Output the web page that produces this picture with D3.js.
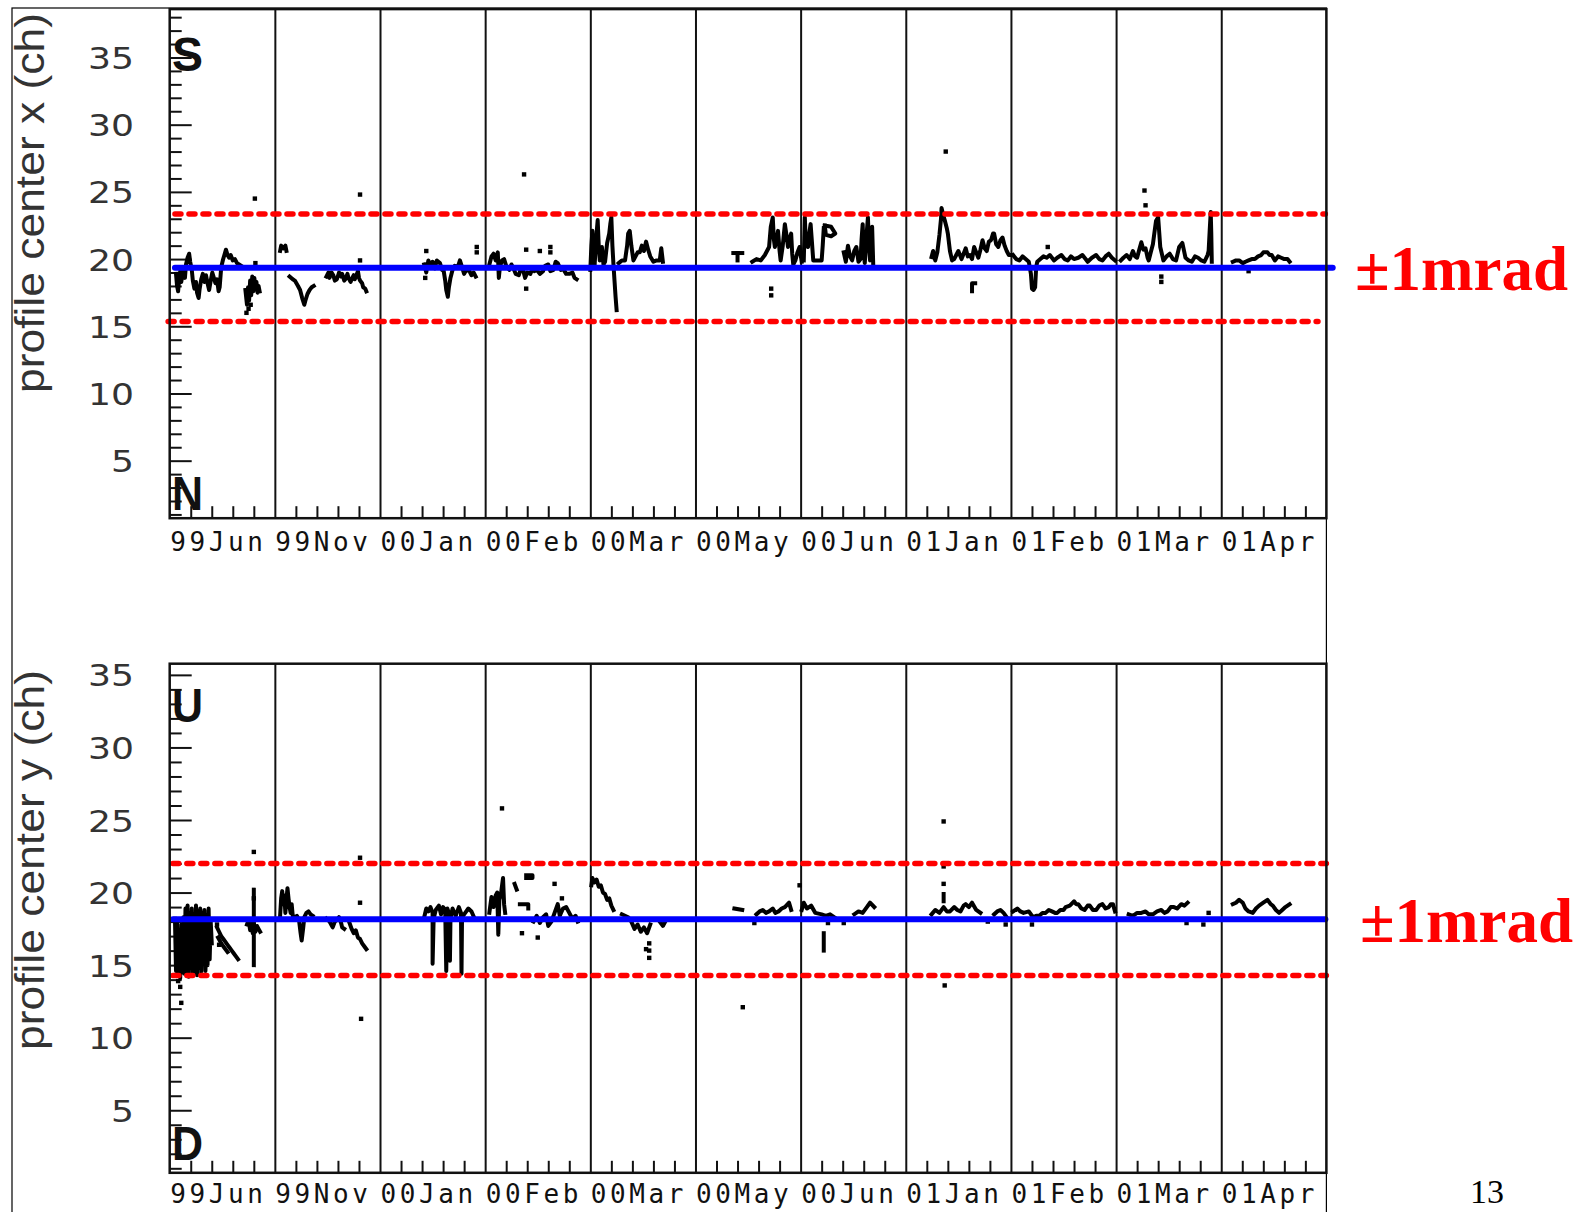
<!DOCTYPE html>
<html><head><meta charset="utf-8">
<script src="https://cdn.jsdelivr.net/npm/d3@7"></script>
<style>html,body{margin:0;padding:0;background:#fff;} svg{display:block;}</style>
</head><body>
<svg id="chart" width="1584" height="1212"></svg>
<script>
// ---------------- DATA ----------------
const periods = ["99Jun","99Nov","00Jan","00Feb","00Mar","00May","00Jun","01Jan","01Feb","01Mar","01Apr"];
const yTickValues = [5,10,15,20,25,30,35];
const xDomain = [0, 11];
const topDomain = [0.72, 38.6];
const bottomDomain = [0.69, 35.77];
const topTitle = "profile center x (ch)";
const bottomTitle = "profile center y (ch)";
const topCornerLabels = ["S","N"];
const bottomCornerLabels = ["U","D"];
const bandLabel = "\u00B11mrad";
const pageNumber = "13";
// reference lines (value, [from, to] in period units)
const topCenter = [19.36, [0.05, 11.06]];
const topBand = [[23.36, [0.05, 10.99]], [15.36, [-0.015, 10.92]]];
const bottomCenter = [18.16, [0.03, 10.99]];
const bottomBand = [[22.0, [0.03, 11.0]], [14.28, [0.03, 11.0]]];

// top panel: profile center x — traces as [period position, value]
const topTraces = [
 [[0.06,18.9],[0.07,18.0],[0.08,17.6],[0.09,18.5],[0.10,19.1],[0.11,18.3],[0.12,18.8],[0.13,19.3],[0.145,18.6],[0.155,19.6],[0.17,20.1],[0.185,20.4],[0.195,19.8],[0.21,19.2],[0.22,18.4],[0.235,17.8],[0.25,18.3],[0.26,17.5],[0.275,17.1],[0.285,17.8],[0.30,18.5],[0.315,18.9],[0.33,18.3],[0.345,18.8],[0.36,18.2],[0.375,17.7],[0.39,18.4],[0.405,19.0],[0.42,18.6],[0.435,18.2],[0.45,18.5],[0.465,17.6],[0.475,17.9],[0.49,19.4],[0.505,19.9],[0.52,20.3],[0.535,20.7],[0.55,20.3],[0.565,20.1],[0.58,20.3],[0.60,19.9],[0.62,20.0],[0.64,19.7],[0.66,19.6],[0.68,19.5]],
 [[0.72,17.7],[0.735,16.6],[0.745,17.9],[0.755,16.9],[0.765,18.4],[0.775,17.3],[0.785,18.7],[0.795,17.6],[0.805,18.6],[0.815,17.9],[0.825,18.3],[0.835,17.5],[0.845,18.0],[0.855,17.6]],
 [[1.05,20.6],[1.06,21.0],[1.08,20.8],[1.10,21.0],[1.11,20.6]],
 [[1.14,18.7],[1.17,18.5],[1.19,18.4],[1.22,18.0],[1.24,17.7],[1.26,17.1],[1.28,16.6],[1.29,16.9],[1.31,17.4],[1.33,17.7],[1.35,17.9],[1.37,18.0]],
 [[1.49,18.7],[1.51,19.0],[1.52,18.6],[1.54,19.0],[1.556,18.8],[1.57,18.4],[1.59,18.5],[1.61,19.0],[1.63,18.7],[1.64,18.9],[1.66,18.4],[1.67,18.5],[1.69,18.9],[1.70,18.6],[1.72,18.3],[1.73,18.5],[1.75,18.8],[1.76,18.5],[1.78,18.9],[1.79,19.1],[1.80,18.6],[1.81,18.4],[1.83,18.2],[1.84,17.9],[1.86,17.8],[1.87,17.6]],
 [[2.42,19.6],[2.44,19.0],[2.46,19.9],[2.48,19.5],[2.50,19.8],[2.52,19.3],[2.54,19.9],[2.57,19.7],[2.59,19.2],[2.60,19.4],[2.62,18.4],[2.63,17.7],[2.645,17.2],[2.655,17.9],[2.67,18.6],[2.69,19.2],[2.71,19.5],[2.74,19.4],[2.76,19.9],[2.78,19.4],[2.80,18.9],[2.82,19.2],[2.85,19.1],[2.87,18.8],[2.89,19.0],[2.91,18.7]],
 [[3.04,19.6],[3.06,20.2],[3.08,20.4],[3.10,19.9],[3.12,20.5],[3.13,18.6],[3.14,19.4],[3.16,19.9],[3.18,20.0],[3.20,19.5],[3.23,19.2],[3.25,19.6],[3.27,19.3],[3.29,18.9],[3.32,18.8],[3.34,19.3],[3.36,19.2],[3.38,18.6],[3.40,19.0],[3.43,18.9],[3.45,19.3],[3.47,19.1],[3.49,19.2],[3.52,18.9],[3.55,19.1],[3.57,19.5],[3.60,19.6],[3.62,19.1],[3.65,19.2],[3.67,19.8],[3.69,19.7],[3.72,19.2],[3.74,19.3],[3.77,18.9],[3.80,18.9],[3.83,19.0],[3.85,18.6],[3.87,18.5]],
 [[4.00,19.2],[4.01,21.0],[4.02,22.1],[4.03,20.0],[4.04,19.4],[4.055,21.5],[4.07,22.9],[4.08,21.0],[4.09,19.9],[4.10,20.5],[4.11,20.9],[4.125,19.6],[4.14,19.8],[4.16,21.2],[4.18,21.9],[4.19,22.6],[4.20,23.1],[4.21,21.0],[4.22,19.6],[4.23,18.4],[4.24,17.2],[4.25,16.2]],
 [[4.27,19.7],[4.30,19.9],[4.33,19.9],[4.35,21.0],[4.36,21.9],[4.375,22.1],[4.39,21.0],[4.41,19.9],[4.43,20.2],[4.45,20.5],[4.47,20.5],[4.49,21.0],[4.51,20.6],[4.53,21.3],[4.55,20.7],[4.57,20.2],[4.60,19.8],[4.63,19.9],[4.66,19.9],[4.675,20.8],[4.69,19.8]],
 [[5.36,20.45],[5.445,20.45]],
 [[5.40,20.45],[5.40,19.9]],
 [[5.54,19.8],[5.58,20.0],[5.62,19.9],[5.66,20.3],[5.70,20.9],[5.716,22.4],[5.735,23.1],[5.745,21.5],[5.755,20.9],[5.77,21.4],[5.785,22.1],[5.80,20.6],[5.81,19.9],[5.83,21.0],[5.85,22.6],[5.865,21.8],[5.88,20.9],[5.895,21.5],[5.91,21.9],[5.92,20.4],[5.93,19.6],[5.95,19.9],[5.97,20.5],[5.99,20.9],[6.01,19.8]],
 [[6.03,19.9],[6.035,21.5],[6.04,23.1],[6.05,21.0],[6.07,20.9],[6.08,21.8],[6.095,22.6],[6.11,21.0],[6.12,19.9],[6.16,19.9],[6.20,19.9],[6.21,21.0],[6.22,22.3]],
 [[6.23,22.5],[6.29,22.4],[6.33,21.9],[6.29,21.7],[6.24,21.8],[6.23,22.5]],
 [[6.41,20.5],[6.43,19.8],[6.45,21.0],[6.47,20.2],[6.49,19.9],[6.51,20.6],[6.53,20.9],[6.55,19.8],[6.57,20.0],[6.58,21.5],[6.59,22.6],[6.60,20.5],[6.61,19.7],[6.625,21.6],[6.64,23.1],[6.65,21.0],[6.66,19.9],[6.67,21.2],[6.68,22.4],[6.69,19.7]],
 [[7.245,20.15],[7.26,20.6],[7.28,19.9],[7.30,20.5],[7.32,21.8],[7.335,23.0],[7.34,23.8],[7.355,23.3],[7.37,22.9],[7.39,22.3],[7.40,21.9],[7.42,20.6],[7.44,19.9],[7.46,20.0],[7.48,20.3],[7.50,20.6],[7.53,20.0],[7.55,20.4],[7.57,20.8],[7.59,20.2],[7.61,20.3],[7.63,20.0],[7.65,20.9],[7.67,20.5],[7.69,20.1],[7.71,20.7],[7.73,21.4],[7.75,20.8],[7.77,20.6],[7.79,21.3],[7.81,21.4],[7.83,21.9],[7.84,21.9],[7.86,21.1],[7.88,20.9],[7.90,21.4],[7.92,21.6],[7.94,21.0],[7.96,20.6],[7.98,20.3],[8.0,20.3]],
 [[7.63,17.6],[7.63,18.2],[7.66,18.2]],
 [[8.02,20.3],[8.05,20.0],[8.08,19.9],[8.11,20.2],[8.14,20.0],[8.17,19.8],[8.19,18.9],[8.20,17.8],[8.215,17.7],[8.23,17.9],[8.24,19.4],[8.25,19.8],[8.28,20.0],[8.31,20.2],[8.34,20.1],[8.37,20.3],[8.41,19.9],[8.44,20.1],[8.48,20.3],[8.51,20.0],[8.54,19.9],[8.57,20.2],[8.60,20.0],[8.64,20.1],[8.68,20.3],[8.71,20.0],[8.73,19.8],[8.77,20.1],[8.81,20.3],[8.84,20.0],[8.87,19.9],[8.90,20.2],[8.93,20.4],[8.96,20.1],[8.99,19.9]],
 [[9.045,19.9],[9.07,20.1],[9.10,20.3],[9.13,20.0],[9.16,20.6],[9.18,20.2],[9.20,20.1],[9.22,20.7],[9.24,21.25],[9.26,20.7],[9.28,20.8],[9.30,20.1],[9.31,19.9],[9.33,20.5],[9.35,21.1],[9.365,22.0],[9.38,22.85],[9.40,23.1],[9.41,22.0],[9.42,20.9],[9.45,19.9],[9.48,20.2],[9.51,20.4],[9.54,20.0],[9.57,19.9],[9.60,20.9],[9.63,21.2],[9.66,20.1],[9.69,19.9],[9.72,19.8],[9.75,20.2],[9.78,20.1],[9.81,19.9],[9.84,19.8],[9.87,20.3],[9.88,20.6],[9.89,22.1],[9.90,23.5],[9.905,22.0],[9.91,19.8]],
 [[10.11,19.8],[10.14,19.9],[10.17,19.9],[10.205,19.7],[10.23,19.8],[10.26,19.9],[10.29,20.0],[10.32,20.0],[10.35,20.2],[10.38,20.3],[10.40,20.5],[10.44,20.5],[10.46,20.3],[10.48,20.3],[10.51,19.9],[10.54,20.2],[10.57,20.1],[10.60,20.0],[10.63,20.0],[10.65,19.8]]
];
const topDots = [[0.75,16.3],[0.77,16.6],[0.73,16.0],[0.81,24.5],[0.815,19.7],[1.81,24.8],[1.81,19.9],[2.44,20.6],[2.43,18.6],[2.92,20.9],[2.92,20.5],[3.39,20.7],[3.39,17.8],[3.52,20.6],[3.62,20.9],[3.62,20.5],[3.37,26.3],[5.72,17.8],[5.72,17.3],[7.38,28.0],[8.35,20.9],[9.43,18.7],[9.43,18.3],[9.28,24.0],[9.27,25.1],[10.26,19.1]];

// bottom panel: profile center y
const bottomTraces = [
 [[0.05,18.2],[0.06,14.6],[0.07,17.9],[0.08,14.3],[0.09,17.3],[0.10,14.1],[0.11,17.8],[0.12,14.5],[0.13,18.3],[0.14,14.4],[0.15,18.9],[0.16,14.6],[0.17,19.1],[0.18,14.2],[0.19,18.6],[0.20,15.0],[0.21,18.9],[0.22,14.4],[0.23,18.5],[0.24,14.6],[0.25,19.1],[0.26,14.3],[0.27,18.7],[0.28,14.8],[0.29,18.9],[0.30,14.5],[0.31,18.6],[0.32,15.2],[0.33,18.8],[0.34,14.6],[0.35,18.4],[0.36,15.0],[0.37,18.9],[0.38,15.4],[0.39,18.0],[0.40,16.5]],
 [[0.45,17.6],[0.47,17.3],[0.49,17.0],[0.51,16.8],[0.53,16.6],[0.55,16.4],[0.57,16.2],[0.59,16.0],[0.61,15.8],[0.63,15.6],[0.65,15.4]],
 [[0.46,16.9],[0.49,16.5],[0.52,16.2],[0.55,15.9]],
 [[0.735,17.8],[0.75,18.1],[0.765,17.4],[0.78,18.0],[0.79,17.2],[0.80,17.9],[0.815,17.3],[0.83,17.7],[0.845,17.5],[0.86,17.3]],
 [[0.80,20.2],[0.80,15.0]],
 [[1.05,18.4],[1.06,19.6],[1.07,20.1],[1.08,19.2],[1.09,19.8],[1.10,18.6],[1.11,19.5],[1.12,20.3],[1.13,19.6],[1.14,19.0],[1.15,18.6],[1.16,19.2],[1.17,18.4],[1.19,18.3],[1.21,18.4],[1.23,18.1],[1.245,17.2],[1.255,16.7],[1.27,17.6],[1.28,18.3],[1.30,18.6],[1.32,18.7],[1.34,18.5],[1.36,18.4]],
 [[1.49,18.2],[1.52,18.0],[1.55,17.6],[1.57,18.0],[1.59,18.1],[1.61,18.3],[1.63,17.9],[1.64,17.6],[1.66,17.5]],
 [[1.71,17.9],[1.73,17.5],[1.75,17.2],[1.77,17.4],[1.79,16.9],[1.81,16.8],[1.83,16.5],[1.85,16.3],[1.87,16.1]],
 [[2.42,18.3],[2.44,18.9],[2.46,18.7],[2.48,19.0],[2.50,18.6],[2.50,15.1],[2.51,18.2],[2.53,18.8],[2.56,19.1],[2.58,18.5],[2.60,19.0],[2.62,18.8],[2.63,14.6],[2.64,18.9],[2.66,18.5],[2.665,15.3],[2.67,18.2],[2.69,18.9],[2.72,18.4],[2.75,19.0],[2.77,18.6],[2.775,14.4],[2.78,18.3],[2.81,18.6],[2.84,18.9],[2.87,18.7],[2.90,18.2]],
 [[3.04,18.6],[3.06,19.7],[3.08,19.0],[3.10,19.8],[3.115,20.0],[3.125,17.1],[3.135,19.5],[3.15,19.9],[3.17,21.0],[3.18,19.2],[3.19,18.6]],
 [[3.28,20.6],[3.30,20.2]],
 [[3.39,21.2],[3.45,21.2],[3.45,21.0],[3.39,21.0]],
 [[3.33,19.2],[3.41,19.2],[3.41,18.9]],
 [[3.46,18.0],[3.49,18.4],[3.52,17.9],[3.55,18.3],[3.58,18.5],[3.60,17.7],[3.63,18.0],[3.66,18.6],[3.69,19.2],[3.71,18.4],[3.74,18.9],[3.77,19.0],[3.80,18.6],[3.83,18.2],[3.86,18.4],[3.88,18.0]],
 [[4.01,20.5],[4.02,21.0],[4.04,20.7],[4.06,20.9],[4.08,20.4],[4.10,20.5],[4.12,20.0],[4.14,19.9],[4.16,19.5],[4.18,19.6],[4.20,19.1],[4.22,18.8]],
 [[4.30,18.5],[4.33,18.4],[4.36,18.3],[4.39,18.0],[4.42,17.5],[4.45,17.8],[4.48,17.3],[4.51,17.6],[4.54,17.2],[4.57,17.8]],
 [[4.66,18.0],[4.69,17.7],[4.72,18.1]],
 [[5.37,18.9],[5.445,18.8]],
 [[5.58,18.5],[5.61,18.7],[5.64,18.8],[5.67,18.6],[5.70,18.7],[5.735,18.9],[5.76,18.6],[5.79,18.7],[5.82,18.9],[5.85,19.0],[5.89,19.3],[5.91,18.8]],
 [[6.01,18.8],[6.03,19.3],[6.06,18.9],[6.10,19.1],[6.14,18.6],[6.20,18.5],[6.24,18.4],[6.28,18.5],[6.32,18.3]],
 [[6.22,17.2],[6.22,16.0]],
 [[6.51,18.5],[6.55,18.7],[6.59,18.6],[6.63,19.0],[6.66,19.3],[6.70,19.0]],
 [[7.245,18.5],[7.28,18.8],[7.32,18.6],[7.36,19.0],[7.39,18.7],[7.42,18.7],[7.46,19.0],[7.49,18.8],[7.52,18.7],[7.55,19.1],[7.57,19.2],[7.60,19.0],[7.63,19.3],[7.67,18.8],[7.71,18.6]],
 [[7.36,19.9],[7.36,19.4]],
 [[7.84,18.5],[7.87,18.7],[7.90,18.8],[7.93,18.6],[7.96,18.3]],
 [[8.02,18.7],[8.06,18.9],[8.09,18.7],[8.12,18.6],[8.17,18.7],[8.21,18.3],[8.24,18.4],[8.27,18.4],[8.30,18.6],[8.33,18.6],[8.36,18.8],[8.39,18.7],[8.42,18.6],[8.44,18.6],[8.47,18.8],[8.50,18.8],[8.52,19.0],[8.56,19.1],[8.60,19.4],[8.62,19.2],[8.64,19.2],[8.67,18.9],[8.70,18.8],[8.73,19.1],[8.75,19.1],[8.78,18.8],[8.81,18.8],[8.84,19.1],[8.87,19.2],[8.90,18.9],[8.93,19.0],[8.95,19.2],[8.97,19.2],[8.99,18.7]],
 [[9.12,18.5],[9.16,18.4],[9.20,18.6],[9.24,18.6],[9.28,18.7],[9.31,18.5],[9.35,18.5],[9.39,18.7],[9.43,18.8],[9.46,18.6],[9.49,18.7],[9.52,19.0],[9.55,19.0],[9.58,18.9],[9.62,19.2],[9.65,19.1],[9.68,19.3]],
 [[10.11,19.2],[10.14,19.3],[10.17,19.5],[10.205,19.3],[10.23,18.9],[10.26,18.7],[10.30,18.6],[10.33,18.9],[10.36,19.1],[10.40,19.3],[10.44,19.5],[10.47,19.2],[10.49,19.1],[10.52,18.8],[10.55,18.6],[10.58,18.8],[10.61,19.0],[10.65,19.2]]
];
const bottomDots = [[0.45,17.8],[0.47,16.4],[0.80,22.8],[0.80,19.6],[0.10,13.5],[0.11,12.4],[0.08,13.9],[1.81,19.3],[1.81,22.4],[1.82,11.3],[3.50,16.9],[3.66,20.6],[3.73,19.6],[3.35,17.2],[3.16,25.8],[4.56,16.5],[4.56,16.0],[4.56,15.5],[4.53,16.1],[5.56,17.9],[5.99,20.5],[5.45,12.1],[6.26,17.9],[6.41,17.9],[7.36,24.9],[7.36,21.8],[7.36,20.6],[7.37,13.6],[7.78,18.0],[7.95,17.8],[8.20,17.8],[9.67,17.9],[9.83,17.8],[9.88,18.6]];

// ---------------- DRAWING ----------------
const svg = d3.select("#chart");
const W = 1584, H = 1212;
svg.append("rect").attr("width", W).attr("height", H).attr("fill", "#fff");

// outer embedded-image frame
svg.append("rect").attr("x", 12).attr("y", 8).attr("width", 1314.4).attr("height", 1260)
  .attr("fill", "none").attr("stroke", "#000").attr("stroke-width", 1.2);

const x = d3.scaleLinear().domain(xDomain).range([169.7, 1326.4]);

const panels = [
  {domain: topDomain, y0: 9.1, y1: 518.2, traces: topTraces, dots: topDots, center: topCenter, band: topBand,
   title: topTitle, titleCy: 203, corners: topCornerLabels, cornerBase: [71, 510], lblX: 1355, lblY: 290, tickLblBase: 551},
  {domain: bottomDomain, y0: 663.7, y1: 1172.8, traces: bottomTraces, dots: bottomDots, center: bottomCenter, band: bottomBand,
   title: bottomTitle, titleCy: 860, corners: bottomCornerLabels, cornerBase: [722, 1160], lblX: 1360, lblY: 942, tickLblBase: 1203}
];

panels.forEach(p => {
  const y = d3.scaleLinear().domain(p.domain).range([p.y1, p.y0]);
  const g = svg.append("g");

  // vertical grid lines at period boundaries
  g.append("g")
    .attr("transform", `translate(0,${p.y1})`)
    .call(d3.axisBottom(x).tickValues(d3.range(1, 11)).tickSize(-(p.y1 - p.y0)).tickFormat(""))
    .call(s => s.select(".domain").remove())
    .call(s => s.selectAll("line").attr("stroke", "#111").attr("stroke-width", 2));

  // minor x ticks
  const minor = d3.range(0, 55).filter(i => i % 5 !== 0).map(i => i / 5);
  g.append("g")
    .attr("transform", `translate(0,${p.y1})`)
    .call(d3.axisBottom(x).tickValues(minor).tickSize(-12).tickFormat(""))
    .call(s => s.select(".domain").remove())
    .call(s => s.selectAll("line").attr("stroke", "#111").attr("stroke-width", 2));

  // x tick labels (left-aligned in each period)
  g.append("g")
    .attr("transform", `translate(0,${p.tickLblBase})`)
    .call(d3.axisBottom(x).tickValues(d3.range(0, 11)).tickSize(0).tickPadding(0).tickFormat(i => periods[i]))
    .call(s => s.select(".domain").remove())
    .call(s => s.selectAll("text")
      .attr("y", 0).attr("dy", 0).attr("x", 0)
      .attr("text-anchor", "start")
      .attr("font-family", "'DejaVu Sans Mono', monospace")
      .attr("font-size", 26).attr("letter-spacing", 3.6)
      .attr("fill", "#111"));

  // y ticks (inside, major every 5)
  const yt = d3.range(Math.ceil(p.domain[0]), Math.floor(p.domain[1]) + 1);
  g.append("g")
    .attr("transform", `translate(${x(0)},0)`)
    .call(d3.axisRight(y).tickValues(yt).tickSize(12).tickFormat(""))
    .call(s => s.select(".domain").remove())
    .call(s => s.selectAll(".tick line")
      .attr("x2", d => d % 5 === 0 ? 22 : 12)
      .attr("stroke", "#111").attr("stroke-width", 2));

  // y labels
  g.append("g").selectAll("text").data(yTickValues).join("text")
    .attr("x", 134).attr("y", d => y(d) + 11.5)
    .attr("text-anchor", "end")
    .attr("font-family", "'DejaVu Sans', sans-serif").attr("font-size", 31)
    .attr("fill", "#333")
    .attr("textLength", d => String(d).length * 23)
    .attr("lengthAdjust", "spacingAndGlyphs")
    .text(d => d);

  // y title
  g.append("text")
    .attr("transform", `translate(44,${p.titleCy}) rotate(-90)`)
    .attr("text-anchor", "middle")
    .attr("font-family", "'Liberation Sans', Arial, sans-serif").attr("font-size", 40)
    .attr("fill", "#333")
    .attr("textLength", 380).attr("lengthAdjust", "spacingAndGlyphs")
    .text(p.title);

  // data traces
  const line = d3.line().x(d => x(d[0])).y(d => y(d[1]));
  g.append("g").selectAll("path").data(p.traces).join("path")
    .attr("d", line)
    .attr("fill", "none").attr("stroke", "#000").attr("stroke-width", 4)
    .attr("stroke-linejoin", "round").attr("stroke-linecap", "square");
  g.append("g").selectAll("rect").data(p.dots).join("rect")
    .attr("x", d => x(d[0]) - 2.2).attr("y", d => y(d[1]) - 2.2)
    .attr("width", 4.4).attr("height", 4.4).attr("fill", "#000");

  // red dashed ±1mrad lines
  g.append("g").selectAll("line").data(p.band).join("line")
    .attr("x1", d => x(d[1][0])).attr("x2", d => x(d[1][1]))
    .attr("y1", d => y(d[0])).attr("y2", d => y(d[0]))
    .attr("stroke", "#ff0000").attr("stroke-width", 5.5)
    .attr("stroke-dasharray", "6,8").attr("stroke-linecap", "round");

  // blue centre line
  g.append("line")
    .attr("x1", x(p.center[1][0])).attr("x2", x(p.center[1][1]))
    .attr("y1", y(p.center[0])).attr("y2", y(p.center[0]))
    .attr("stroke", "#0000ff").attr("stroke-width", 6).attr("stroke-linecap", "round");

  // plot frame
  g.append("rect")
    .attr("x", x(0)).attr("y", p.y0)
    .attr("width", x(11) - x(0)).attr("height", p.y1 - p.y0)
    .attr("fill", "none").attr("stroke", "#111").attr("stroke-width", 2.5);

  // corner letters
  g.append("g").selectAll("text").data(p.corners).join("text")
    .attr("x", 172).attr("y", (d, i) => p.cornerBase[i])
    .attr("font-family", "'Liberation Sans', Arial, sans-serif").attr("font-weight", "bold")
    .attr("font-size", 48).attr("fill", "#111")
    .attr("textLength", 31).attr("lengthAdjust", "spacingAndGlyphs")
    .text(d => d);

  // ±1mrad label
  svg.append("text")
    .attr("x", p.lblX).attr("y", p.lblY)
    .attr("font-family", "'Liberation Serif', 'Times New Roman', serif").attr("font-weight", "bold")
    .attr("font-size", 63).attr("fill", "#ff0000")
    .text(bandLabel);
});

// page number
svg.append("text")
  .attr("x", 1487).attr("y", 1203).attr("text-anchor", "middle")
  .attr("font-family", "'Liberation Serif', 'Times New Roman', serif").attr("font-size", 34)
  .attr("fill", "#000")
  .text(pageNumber);
</script>
</body></html>
